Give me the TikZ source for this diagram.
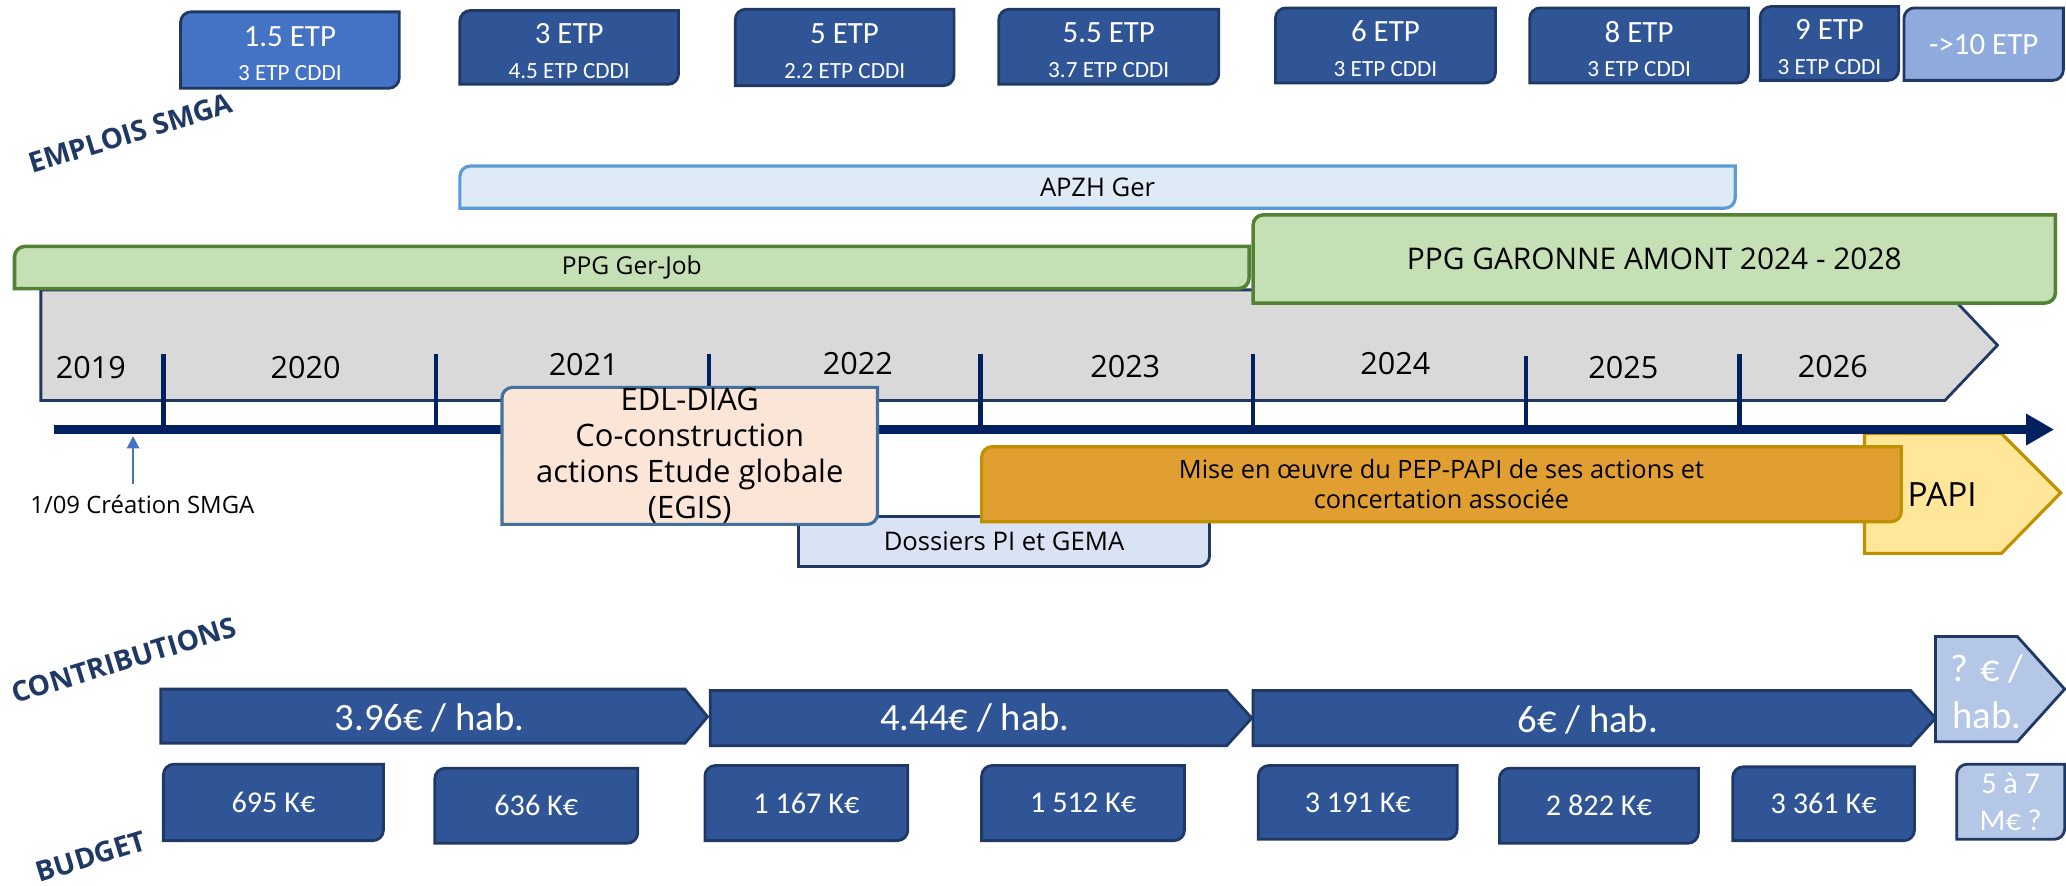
\documentclass[tikz,border=0pt]{standalone}
\usepackage{fontspec}
\setmainfont{Open Sans}
\newfontfamily\calfont{Carlito}
\usepackage{xcolor}
\usepackage{tikz}
\usetikzlibrary{arrows.meta}

\definecolor{navy}{HTML}{203864}
\definecolor{axisblue}{HTML}{002060}
\definecolor{boxblue}{HTML}{2F5597}
\definecolor{midblue}{HTML}{4472C4}
\definecolor{paleblue}{HTML}{8FAADC}
\definecolor{fogblue}{HTML}{B4C7E7}
\definecolor{apzhfill}{HTML}{DEEBF7}
\definecolor{apzhline}{HTML}{5B9BD5}
\definecolor{ppgfill}{HTML}{C5E0B4}
\definecolor{ppgline}{HTML}{548235}
\definecolor{chevgray}{HTML}{D9D9D9}
\definecolor{edlfill}{HTML}{FBE5D6}
\definecolor{edlline}{HTML}{41719C}
\definecolor{gemafill}{HTML}{DAE3F3}
\definecolor{mefill}{HTML}{E09F30}
\definecolor{goldline}{HTML}{BF9000}
\definecolor{papifill}{HTML}{FFE699}
\definecolor{labelnavy}{HTML}{1F3864}

\tikzset{textdrop/.store in=\textdropamt, textdrop=0pt}

% box with rounded top-left and bottom-right corners
\newcommand{\crad}{3pt}
\newcommand{\roundbox}[7][]{%
  \draw[#1] (#3,#6) -- ([yshift=-\crad]#3,#4) arc[start angle=180, end angle=90, radius=\crad]
    -- (#5,#4) -- ([yshift=\crad]#5,#6) arc[start angle=0, end angle=-90, radius=\crad] -- cycle;
  \node[#1, draw=none, fill=none, yshift=-\textdropamt] (#2) at ({(#3+#5)/2},{(#4+#6)/2}) {#7};
}
\newcommand{\cddi}[1]{{\fontsize{6.6}{7.5}\selectfont #1}}

\begin{document}
\begin{tikzpicture}[x=0.013176cm, y=-0.013176cm,
    etpbox/.style={fill=boxblue, draw=navy, line width=0.8pt, text=white, align=center,
      font=\calfont\fontsize{8.8}{9.9}\selectfont, textdrop=1pt},
    budgetbox/.style={fill=boxblue, draw=navy, line width=0.8pt, text=white, align=center,
      font=\calfont\fontsize{8.6}{10.5}\selectfont},
    contrib/.style={fill=boxblue, draw=navy, line width=0.8pt},
    contribtext/.style={text=white, align=center, font=\calfont\fontsize{11}{13.5}\selectfont},
    sidelabel/.style={text=labelnavy, font=\bfseries\fontsize{8}{9}\selectfont, rotate=17},
    yearlabel/.style={font=\fontsize{8.7}{10}\selectfont},
    ppgbox/.style={fill=ppgfill, draw=ppgline, line width=1pt},
    apzhbox/.style={fill=apzhfill, draw=apzhline, line width=0.9pt, font=\fontsize{7.3}{8}\selectfont},
    chevron/.style={fill=chevgray, draw=navy, line width=0.8pt},
    tick/.style={draw=axisblue, line width=1.3pt},
    timeaxis/.style={draw=axisblue, line width=2.5pt, -{Triangle[length=8pt,width=8.5pt]}},
    edlbox/.style={fill=edlfill, draw=edlline, line width=0.9pt, align=center,
      font=\fontsize{8.8}{10.3}\selectfont},
    gemabox/.style={fill=gemafill, draw=navy, line width=0.8pt, font=\fontsize{7.3}{8}\selectfont},
    mebox/.style={fill=mefill, draw=goldline, line width=0.9pt, align=center,
      font=\fontsize{7.2}{8.6}\selectfont},
    papishape/.style={fill=papifill, draw=goldline, line width=0.9pt}]

    \useasboundingbox (0,0) rectangle (1568,672);

    % Emplois
    \roundbox[etpbox, fill=midblue]{etp1}{137}{9}{303}{67}{1.5 ETP\\\cddi{3 ETP CDDI}}
    \roundbox[etpbox]{etp2}{349}{8}{515}{64}{3 ETP\\\cddi{4.5 ETP CDDI}}
    \roundbox[etpbox]{etp3}{558}{7}{724}{65}{5 ETP\\\cddi{2.2 ETP CDDI}}
    \roundbox[etpbox]{etp4}{758}{7}{925}{64}{5.5 ETP\\\cddi{3.7 ETP CDDI}}
    \roundbox[etpbox]{etp5}{968}{6}{1135}{63}{6 ETP\\\cddi{3 ETP CDDI}}
    \roundbox[etpbox]{etp6}{1161}{6}{1327}{63}{8 ETP\\\cddi{3 ETP CDDI}}
    \roundbox[etpbox]{etp7}{1336}{5}{1441}{61}{9 ETP\\\cddi{3 ETP CDDI}}
    \roundbox[etpbox, fill=paleblue, textdrop=0pt]{etp8}{1445}{6}{1566}{61}{->10 ETP}
    \node[sidelabel] (emplois) at (99,101) {EMPLOIS SMGA};

    % Programmes
    \roundbox[apzhbox]{apzh}{349}{126}{1317}{158}{APZH Ger}
    \draw[chevron] (31,220) -- (1476,220) -- (1516,262) -- (1476,304) -- (31,304) -- cycle;
    \roundbox[ppgbox, font=\fontsize{7}{8}\selectfont]{gerjob}{11}{187}{948}{219}{PPG Ger-Job}
    \roundbox[ppgbox, font=\fontsize{8.5}{10}\selectfont]{garonne}{951}{163}{1560}{230}{PPG GARONNE AMONT 2024 - 2028}

    % Years
    \node[yearlabel] (y2019) at (69,279) {2019};
    \node[yearlabel] (y2020) at (232,279) {2020};
    \node[yearlabel] (y2021) at (443,277) {2021};
    \node[yearlabel] (y2022) at (651,276) {2022};
    \node[yearlabel] (y2023) at (854,278) {2023};
    \node[yearlabel] (y2024) at (1059,276) {2024};
    \node[yearlabel] (y2025) at (1232,279) {2025};
    \node[yearlabel] (y2026) at (1391,278) {2026};
    \draw[tick] (124,269) -- (124,326);
    \draw[tick] (331,269) -- (331,326);
    \draw[tick] (538,269) -- (538,326);
    \draw[tick] (744,269) -- (744,326);
    \draw[tick] (951,269) -- (951,326);
    \draw[tick] (1158,270) -- (1158,326);
    \draw[tick] (1320,269) -- (1320,326);

    % PAPI
    \draw[papishape] (1415,329) -- (1519,329) -- (1564,374) -- (1519,420) -- (1415,420) -- cycle;
    \node[font=\fontsize{9.5}{11}\selectfont] (papi) at (1474,375) {PAPI};

    % Axis
    \coordinate (axstart) at (41,326);
    \coordinate (axend) at (1559,326);
    \draw[timeaxis] (axstart) -- (axend);

    % Actions
    \roundbox[gemabox]{gema}{606}{392}{918}{430}{Dossiers PI et GEMA}
    \roundbox[edlbox]{edl}{381}{294}{666}{398}{EDL-DIAG\\Co-construction\\actions Etude globale\\(EGIS)}
    \roundbox[mebox]{mise}{745}{339}{1443}{396}{Mise en œuvre du PEP-PAPI de ses actions et\\concertation associée}

    % Creation
    \coordinate (creabase) at (101,367);
    \coordinate (creatip) at (101,331);
    \draw[draw=midblue, line width=0.6pt, -{Triangle[length=3.5pt,width=3.5pt]}] (creabase) -- (creatip);
    \node[font=\fontsize{6.8}{8}\selectfont] (creation) at (108,383) {1/09 Création SMGA};

    % Contributions
    \node[sidelabel] (contrib) at (94,501) {CONTRIBUTIONS};
    \draw[contrib] (122,523) -- (520,523) -- (537,544) -- (520,564) -- (122,564) -- cycle;
    \draw[contrib] (539,524) -- (931,524) -- (950,545) -- (931,566) -- (539,566) -- cycle;
    \draw[contrib] (951,524) -- (1450,524) -- (1469,545) -- (1450,566) -- (951,566) -- cycle;
    \draw[contrib, fill=fogblue] (1469,483) -- (1531,483) -- (1567,523) -- (1531,563) -- (1469,563) -- cycle;
    \node[contribtext] (hab1) at (326,545) {3.96€ / hab.};
    \node[contribtext] (hab2) at (740,545) {4.44€ / hab.};
    \node[contribtext] (hab3) at (1205,546) {6€ / hab.};
    \node[contribtext] (hab4) at (1508,525) {? € /\\hab.};

    % Budget
    \node[sidelabel] (budget) at (69,650) {BUDGET};
    \roundbox[budgetbox]{bud1}{124}{580}{291}{638}{695 K€}
    \roundbox[budgetbox]{bud2}{330}{583}{484}{640}{636 K€}
    \roundbox[budgetbox]{bud3}{535}{581}{689}{638}{1 167 K€}
    \roundbox[budgetbox]{bud4}{745}{581}{899}{638}{1 512 K€}
    \roundbox[budgetbox]{bud5}{955}{581}{1106}{637}{3 191 K€}
    \roundbox[budgetbox]{bud6}{1138}{583}{1289}{640}{2 822 K€}
    \roundbox[budgetbox]{bud7}{1315}{582}{1453}{638}{3 361 K€}
    \roundbox[budgetbox, fill=fogblue]{bud8}{1485}{580}{1567}{637}{5 à 7\\M€ ?}
\end{tikzpicture}
\end{document}
